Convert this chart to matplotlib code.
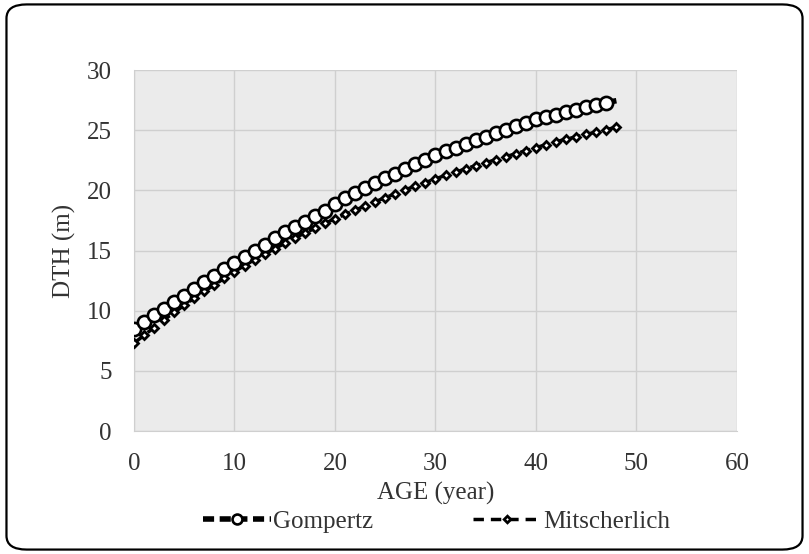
import matplotlib.pyplot as plt
from matplotlib.patches import FancyBboxPatch

# Age (years) and predicted dominant tree height (m)
age_gompertz = list(range(0, 49))
dth_gompertz = [8.5, 9.05, 9.6, 10.15, 10.7, 11.25, 11.8, 12.35, 12.9, 13.45,
                14.0, 14.5, 15.0, 15.5, 16.0, 16.5, 16.95, 17.4, 17.85, 18.3,
                18.9, 19.35, 19.8, 20.2, 20.6, 21.0, 21.4, 21.8, 22.15, 22.5,
                22.9, 23.25, 23.55, 23.85, 24.15, 24.45, 24.75, 25.05, 25.35, 25.6,
                25.9, 26.1, 26.3, 26.5, 26.7, 26.9, 27.1, 27.3, 27.45]

age_mitscherlich = list(range(0, 49))
dth_mitscherlich = [7.3, 7.95, 8.6, 9.25, 9.85, 10.45, 11.05, 11.6, 12.15, 12.7,
                    13.25, 13.75, 14.25, 14.7, 15.15, 15.6, 16.05, 16.45, 16.85, 17.25,
                    17.65, 18.0, 18.35, 18.7, 19.05, 19.4, 19.7, 20.05, 20.35, 20.65,
                    20.95, 21.25, 21.5, 21.8, 22.05, 22.3, 22.55, 22.8, 23.05, 23.3,
                    23.55, 23.8, 24.05, 24.25, 24.45, 24.65, 24.85, 25.05, 25.25]

plt.rcParams['font.family'] = ['Liberation Serif', 'DejaVu Serif']
text_color = '#333333'

fig = plt.figure(figsize=(8.09, 5.54), dpi=100)
ax = fig.add_axes([0.1656, 0.222, 0.7454, 0.6516])

# rounded outer border of the chart
border = FancyBboxPatch((0.008, 0.008), 0.984, 0.984, boxstyle='round,pad=0,rounding_size=0.025',
                        transform=fig.transFigure, fill=False, edgecolor='black', linewidth=1.6)
fig.patches.append(border)

ax.set_facecolor('#ebebeb')
grid_color = '#cfcfcf'

# Gompertz: thick dashed line, open circles (last point has no marker)
ax.plot(age_gompertz, dth_gompertz, color='black', linestyle=(0, (2, 1)), linewidth=4,
        marker='o', markersize=9.5, markerfacecolor='white', markeredgecolor='black',
        markeredgewidth=1.9, markevery=list(range(0, 48)), label='Gompertz', zorder=4)

ax.plot(age_mitscherlich, dth_mitscherlich, color='black', linestyle=(0, (3, 2)), linewidth=2.5,
        marker='D', markersize=4.5, markerfacecolor='white', markeredgecolor='black',
        markeredgewidth=2, label='Mitscherlich', zorder=3)

ax.set_xlim(0, 60)
ax.set_ylim(0, 30)
ax.set_xticks(range(0, 61, 10))
ax.set_yticks(range(0, 31, 5))
ax.grid(True, color=grid_color, linewidth=1)
ax.set_axisbelow(True)
for s in ax.spines.values():
    s.set_visible(False)
ax.spines['left'].set_visible(True)
ax.spines['bottom'].set_visible(True)
ax.spines['left'].set_color(grid_color)
ax.spines['bottom'].set_color(grid_color)
ax.tick_params(length=0, labelsize=18, colors=text_color)
ax.tick_params(axis='y', pad=16)
ax.tick_params(axis='x', pad=16)

ax.set_xlabel('AGE (year)', fontsize=18, color=text_color, labelpad=5)
ax.set_ylabel('DTH (m)', fontsize=18, color=text_color, labelpad=8)

leg = fig.legend(loc='center', bbox_to_anchor=(0.54, 0.058), ncol=2, frameon=False,
                 fontsize=18, columnspacing=4.0, handlelength=2.7, handletextpad=0.1,
                 markerscale=0.75, labelcolor=text_color)

fig.savefig('out.png', dpi=100)
